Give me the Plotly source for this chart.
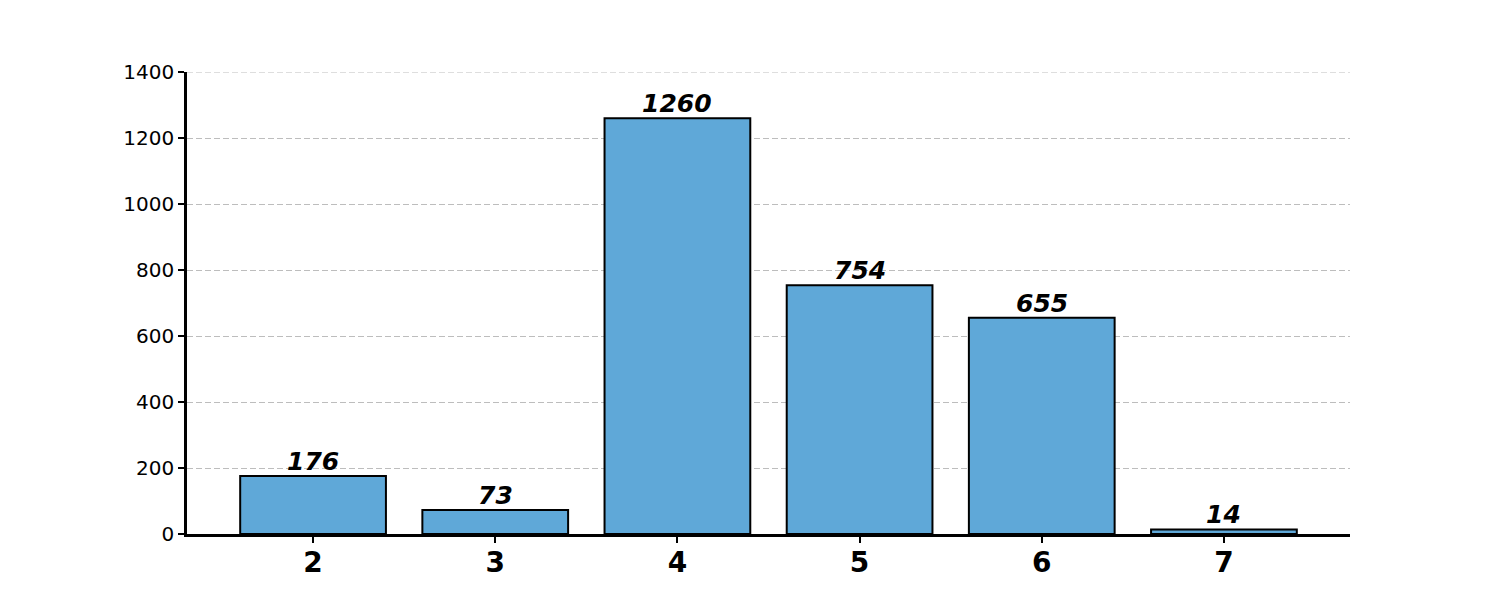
import plotly.graph_objects as go

categories = [2, 3, 4, 5, 6, 7]
counts = [176, 73, 1260, 754, 655, 14]
y_ticks = [0, 200, 400, 600, 800, 1000, 1200, 1400]

fig = go.Figure()
fig.add_trace(go.Bar(
    x=categories, y=counts, width=0.8,
    marker=dict(color="#5fa8d8", line=dict(color="black", width=2)),
    hoverinfo="skip",
))
for c, v in zip(categories, counts):
    fig.add_annotation(x=c, y=v, text=f"<b><i>{v}</i></b>", showarrow=False,
                       yanchor="bottom", yshift=-2,
                       font=dict(family="DejaVu Sans", size=25, color="black"))

# top gridline (plotly skips gridlines on the range edge)
fig.add_shape(type="line", xref="paper", yref="y", x0=0, x1=1,
              y0=y_ticks[-1], y1=y_ticks[-1], layer="below",
              line=dict(color="#bdbdbd", width=1, dash="6px,3px"))

fig.update_layout(
    width=1500, height=600,
    margin=dict(l=179, r=158, t=64, b=74),
    plot_bgcolor="white", paper_bgcolor="white",
    showlegend=False,
    font=dict(family="DejaVu Sans", color="black"),
    bargap=0.2,
)
fig.update_xaxes(
    range=[1.308, 7.692], tickvals=categories, ticktext=[f"<b>{c}</b>" for c in categories],
    tickfont=dict(size=28), showline=True, linecolor="black", linewidth=2.5,
    ticks="outside", ticklen=6, tickwidth=1.5, tickcolor="black", showgrid=False, zeroline=False,
    ticklabelstandoff=-4,
)
fig.update_yaxes(
    range=[0, 1400], tickvals=y_ticks, tickfont=dict(size=20),
    showline=True, linecolor="black", linewidth=2.5,
    ticks="outside", ticklen=6, tickwidth=1.5, tickcolor="black",
    showgrid=True, gridcolor="#bdbdbd", griddash="6px,3px", gridwidth=1, zeroline=False,
)
fig.write_html("out.html")
